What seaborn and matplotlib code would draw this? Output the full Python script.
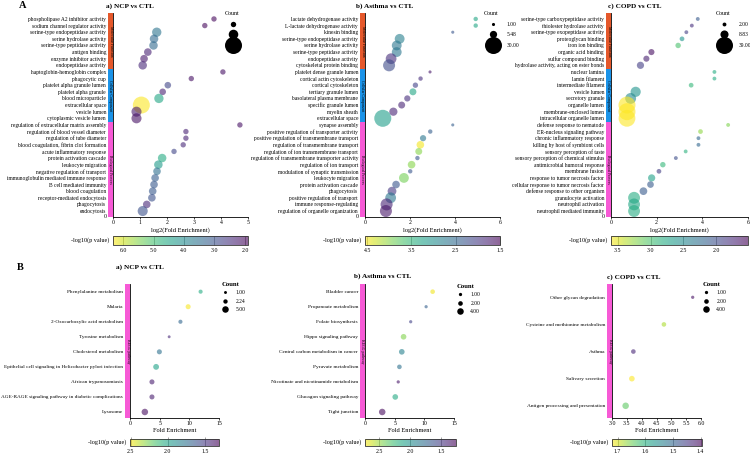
import numpy as np
import pandas as pd
import matplotlib.pyplot as plt
import matplotlib.transforms as mtransforms
from matplotlib.patches import Rectangle
from matplotlib.colors import Normalize
from matplotlib.cm import ScalarMappable
import seaborn as sns

# ---------------- data ----------------
go_groups = ["Molecular Function", "Cellular Component", "Biological Process"]
go_sizes = [8, 8, 14]

ncp_go_terms = [
    "phospholipase A2 inhibitor activity", "sodium channel regulator activity",
    "serine-type endopeptidase activity", "serine hydrolase activity",
    "serine-type peptidase activity", "antigen binding", "enzyme inhibitor activity",
    "endopeptidase activity",
    "haptoglobin-hemoglobin complex", "phagocytic cup", "platelet alpha granule lumen",
    "platelet alpha granule", "blood microparticle", "extracellular space",
    "vesicle lumen", "cytoplasmic vesicle lumen",
    "regulation of extracellular matrix assembly", "regulation of blood vessel diameter",
    "regulation of tube diameter", "blood coagulation, fibrin clot formation",
    "acute inflammatory response", "protein activation cascade", "leukocyte migration",
    "negative regulation of transport", "immunoglobulin mediated immune response",
    "B cell mediated immunity", "blood coagulation", "receptor-mediated endocytosis",
    "phagocytosis", "endocytosis",
]
ncp_go_fe = [3.74, 3.40, 1.62, 1.52, 1.50, 1.29, 1.15, 1.10,
             4.07, 2.90, 2.03, 1.84, 1.70, 1.05, 0.87, 0.87,
             4.70, 2.70, 2.70, 2.60, 2.26, 1.82, 1.68, 1.63, 1.56, 1.52, 1.47, 1.44, 1.25, 1.10]
ncp_go_count = [2, 2, 6, 5, 5, 4, 4, 5,
                2, 2, 3, 3, 6, 20, 7, 7,
                2, 2, 2, 2, 2, 5, 5, 4, 4, 4, 4, 4, 4, 7]
ncp_go_logp = [2.0, 2.0, 3.6, 3.4, 3.4, 2.3, 2.2, 2.4,
               2.1, 2.1, 2.8, 2.3, 4.5, 6.3, 2.2, 2.1,
               2.1, 2.3, 2.3, 2.4, 2.8, 4.6, 4.3, 3.5, 3.2, 3.1, 3.1, 3.0, 2.4, 3.0]

asthma_go_terms = [
    "lactate dehydrogenase activity", "L-lactate dehydrogenase activity", "kinesin binding",
    "serine-type endopeptidase activity", "serine hydrolase activity",
    "serine-type peptidase activity", "endopeptidase activity", "cytoskeletal protein binding",
    "platelet dense granule lumen", "cortical actin cytoskeleton", "cortical cytoskeleton",
    "tertiary granule lumen", "basolateral plasma membrane", "specific granule lumen",
    "myelin sheath", "extracellular space",
    "synapse assembly", "positive regulation of transporter activity",
    "positive regulation of transmembrane transport", "regulation of transmembrane transport",
    "regulation of ion transmembrane transport",
    "regulation of transmembrane transporter activity", "regulation of ion transport",
    "modulation of synaptic transmission", "leukocyte migration", "protein activation cascade",
    "phagocytosis", "positive regulation of transport", "immune response-regulating",
    "regulation of organelle organization",
]
asthma_go_fe = [4.92, 4.92, 3.90, 1.54, 1.41, 1.41, 1.16, 1.07,
                2.89, 2.47, 2.24, 2.13, 1.88, 1.63, 1.26, 0.79,
                3.90, 2.90, 2.58, 2.46, 2.39, 2.33, 2.07, 2.01, 1.73, 1.38, 1.20, 1.14, 0.96, 0.93]
asthma_go_count = [2, 2, 1, 10, 10, 10, 12, 15,
                   1, 2, 3, 5, 4, 5, 7, 30,
                   1, 2, 4, 6, 5, 2, 6, 2, 10, 6, 8, 12, 15, 15]
asthma_go_logp = [3.3, 3.3, 2.3, 2.8, 2.7, 2.7, 1.9, 2.2,
                  1.7, 1.9, 2.1, 3.3, 1.9, 1.8, 1.8, 3.2,
                  2.4, 2.4, 2.7, 4.5, 4.0, 2.3, 4.0, 2.3, 3.9, 2.3, 2.0, 2.7, 1.8, 1.7]

copd_go_terms = [
    "serine-type carboxypeptidase activity", "thiolester hydrolase activity",
    "serine-type exopeptidase activity", "proteoglycan binding", "iron ion binding",
    "organic acid binding", "sulfur compound binding",
    "hydrolase activity, acting on ester bonds",
    "nuclear lamina", "lamin filament", "intermediate filament", "vesicle lumen",
    "secretory granule", "organelle lumen", "membrane-enclosed lumen",
    "intracellular organelle lumen",
    "defense response to nematode", "ER-nucleus signaling pathway",
    "chronic inflammatory response", "killing by host of symbiont cells",
    "sensory perception of taste", "sensory perception of chemical stimulus",
    "antimicrobial humoral response", "membrane fusion",
    "response to tumor necrosis factor", "cellular response to tumor necrosis factor",
    "defense response to other organism", "granulocyte activation",
    "neutrophil activation", "neutrophil mediated immunity",
]
copd_go_fe = [3.80, 3.54, 3.30, 3.11, 2.94, 1.77, 1.55, 1.29,
              4.53, 4.53, 3.51, 1.08, 0.86, 0.70, 0.70, 0.70,
              5.13, 3.92, 3.83, 3.83, 3.27, 2.84, 2.27, 2.10, 1.78, 1.73, 1.42, 1.01, 1.01, 1.01]
copd_go_count = [2, 2, 2, 3, 4, 5, 5, 7,
                 2, 2, 3, 14, 16, 39, 39, 38,
                 2, 3, 2, 2, 2, 2, 4, 3, 7, 6, 8, 19, 19, 19]
copd_go_logp = [2.1, 1.8, 1.9, 2.6, 3.0, 1.6, 1.7, 1.9,
                2.8, 2.8, 2.9, 2.6, 2.5, 3.6, 3.6, 3.6,
                3.2, 3.25, 2.2, 2.2, 2.85, 2.0, 2.9, 1.9, 2.7, 2.1, 2.1, 2.8, 2.75, 2.8]

ncp_kegg_terms = [
    "Phenylalanine metabolism", "Malaria", "2-Oxocarboxylic acid metabolism",
    "Tyrosine metabolism", "Cholesterol metabolism",
    "Epithelial cell signaling in Helicobacter pylori infection",
    "African trypanosomiasis", "AGE-RAGE signaling pathway in diabetic complications",
    "Lysosome",
]
ncp_kegg_fe = [11.9, 9.8, 8.5, 6.6, 4.95, 4.4, 3.7, 3.7, 2.5]
ncp_kegg_count = [2, 3, 2, 1, 3, 4, 3, 3, 5]
ncp_kegg_logp = [2.05, 2.5, 1.7, 1.45, 1.75, 2.0, 1.4, 1.4, 1.35]

asthma_kegg_terms = [
    "Bladder cancer", "Propanoate metabolism", "Folate biosynthesis",
    "Hippo signaling pathway", "Central carbon metabolism in cancer",
    "Pyruvate metabolism", "Nicotinate and nicotinamide metabolism",
    "Glucagon signaling pathway", "Tight junction",
]
asthma_kegg_fe = [11.4, 10.3, 7.7, 6.5, 6.2, 5.8, 5.6, 5.1, 2.9]
asthma_kegg_count = [2, 1, 1, 3, 3, 2, 1, 3, 4]
asthma_kegg_logp = [2.7, 1.7, 1.55, 2.45, 1.9, 1.8, 1.35, 2.15, 1.3]

copd_kegg_terms = [
    "Other glycan degradation", "Cysteine and methionine metabolism", "Asthma",
    "Salivary secretion", "Antigen processing and presentation",
]
copd_kegg_fe = [5.72, 4.75, 3.72, 3.67, 3.46]
copd_kegg_count = [1, 2, 2, 3, 4]
copd_kegg_logp = [1.41, 1.68, 1.43, 1.72, 1.64]

# ---------------- style ----------------
sns.set_theme(style="white")
plt.rcParams['font.family'] = ['Liberation Serif', 'DejaVu Serif']
plt.rcParams['text.color'] = 'black'
plt.rcParams['axes.labelcolor'] = 'black'
plt.rcParams['xtick.color'] = 'black'
plt.rcParams['ytick.color'] = 'black'

GROUP_COLORS = ['#E5582B', '#1B93E8', '#F75AD6']
W, H = 750, 457
fig = plt.figure(figsize=(W / 100, H / 100), dpi=100)


def px_axes(l, t, r, b):
    return fig.add_axes([l / W, 1 - b / H, (r - l) / W, (b - t) / H])


def dot_panel(rect, terms, fe, counts, logp, groups, sizes, colors, xlim, xticks,
              prange, smax, pads, xlabel, tick_fs=4.0, zero=False):
    ax = px_axes(*rect)
    df = pd.DataFrame({'term': terms, 'fe': fe, 'count': counts, 'logp': logp})
    sns.scatterplot(data=df, x='fe', y='term', hue='logp', size='count',
                    palette='viridis', hue_norm=prange,
                    sizes=(0, smax), size_norm=(0, max(counts)),
                    alpha=0.6, linewidth=0, legend=False, ax=ax, clip_on=False)
    n = len(terms)
    ax.set_ylim(n - 1 + pads[1], -pads[0])
    ax.set_xlim(*xlim)
    ax.set_xticks(xticks)
    ax.set_ylabel('')
    ax.set_xlabel(xlabel, fontsize=4.6, labelpad=1)
    ax.tick_params(axis='y', length=0, pad=5.0, labelsize=tick_fs)
    ax.tick_params(axis='x', length=1.5, width=0.5, pad=1, labelsize=4.2, bottom=True)
    for side in ['top', 'right']:
        ax.spines[side].set_visible(False)
    for side in ['left', 'bottom']:
        ax.spines[side].set_color('black')
        ax.spines[side].set_linewidth(0.6)
    # coloured category strip left of the axis
    bw = 5 / (rect[2] - rect[0])
    tr = mtransforms.blended_transform_factory(ax.transAxes, ax.transData)
    edges = [-pads[0]] + list(np.cumsum(sizes)[:-1] - 0.5) + [n - 1 + pads[1]]
    for i, (g, c) in enumerate(zip(groups, colors)):
        ax.add_patch(Rectangle((-bw, edges[i]), bw, edges[i + 1] - edges[i],
                               transform=tr, color=c, clip_on=False, lw=0))
        ax.text(-bw / 2, (edges[i] + edges[i + 1]) / 2, g, transform=tr,
                rotation=-90, ha='center', va='center', fontsize=2.8)
    if zero:
        ax.text(-8 / (rect[2] - rect[0]), 0, '0', transform=ax.transAxes,
                ha='center', va='center', fontsize=4.2)
    return ax


def colorbar(rect, prange, ticks):
    cax = px_axes(*rect)
    sm = ScalarMappable(norm=Normalize(*prange), cmap='viridis')
    cb = fig.colorbar(sm, cax=cax, orientation='horizontal', alpha=0.6)
    cax.invert_xaxis()
    cb.set_ticks(ticks)
    cb.set_ticklabels([f'{t:.1f}' for t in ticks])
    cax.tick_params(labelsize=4.2, direction='in', length=6.5, width=0.4,
                    color='0.35', pad=2.5)
    cb.outline.set_linewidth(0.6)
    cb.outline.set_edgecolor('0.2')
    cax.text(-4 / (rect[2] - rect[0]), 0.5, '-log10(p value)', transform=cax.transAxes,
             ha='right', va='center', fontsize=4.4)


def count_legend(anchor, counts, smax, handlelen, textpad, spacing, show_labels=True,
                 bold=False):
    cmin, cmax = min(counts), max(counts)
    vals = [cmin, np.sqrt(cmin * cmax), cmax]
    handles = [plt.Line2D([], [], ls='', marker='o', color='black', mec='none',
                          markersize=np.sqrt(smax * v / cmax)) for v in vals]
    labels = [f'{v:.2f}' if show_labels else '' for v in vals]
    leg = fig.legend(handles, labels, title='Count', loc='upper left',
                     bbox_to_anchor=(anchor[0] / W, 1 - anchor[1] / H),
                     frameon=False, fontsize=4.0, borderpad=0, borderaxespad=0,
                     handlelength=handlelen, handletextpad=textpad,
                     labelspacing=spacing, alignment='left')
    leg.get_title().set_fontsize(4.8 if bold else 4.3)
    if bold:
        leg.get_title().set_fontweight('bold')


# ---------------- top row: GO ----------------
TOP_PADS = (0.9, 0.9)
dot_panel((113, 13, 248, 217), ncp_go_terms, ncp_go_fe, ncp_go_count, ncp_go_logp,
          go_groups, go_sizes, GROUP_COLORS, (0, 5), [0, 1, 2, 3, 4, 5],
          (1.9, 6.33), 150, TOP_PADS, 'log2(Fold Enrichment)', zero=True)
colorbar((113, 236, 248, 245), (1.9, 6.33), [6.0, 5.0, 4.0, 3.0, 2.0])
count_legend((224.5, 11), ncp_go_count, 150, 3.1, 1.0, 1.0, show_labels=False)

dot_panel((365, 13, 500, 217), asthma_go_terms, asthma_go_fe, asthma_go_count,
          asthma_go_logp, go_groups, go_sizes, GROUP_COLORS, (0, 6), [0, 2, 4, 6],
          (1.5, 4.55), 150, TOP_PADS, 'log2(Fold Enrichment)', zero=True)
colorbar((365, 236, 500, 245), (1.5, 4.55), [4.5, 3.5, 2.5, 1.5])
count_legend((484, 11), asthma_go_count, 150, 3.1, 1.0, 1.0)

dot_panel((611, 13, 748, 217), copd_go_terms, copd_go_fe, copd_go_count, copd_go_logp,
          go_groups, go_sizes, GROUP_COLORS, (0, 6), [0, 2, 4, 6],
          (1.52, 3.6), 150, TOP_PADS, 'log2(Fold Enrichment)', zero=True)
colorbar((611, 236, 748, 245), (1.52, 3.6), [3.5, 3.0, 2.5, 2.0])
count_legend((715.5, 11), copd_go_count, 150, 3.1, 1.0, 1.0)

# ---------------- bottom row: KEGG ----------------
PINK = [GROUP_COLORS[2]]
dot_panel((130, 284, 219, 418), ncp_kegg_terms, ncp_kegg_fe, ncp_kegg_count,
          ncp_kegg_logp, ["KEGG pathway"], [9], PINK, (0, 15), [0, 5, 10, 15],
          (1.31, 2.51), 22, (0.51, 0.4), 'Fold Enrichment', tick_fs=3.75)
colorbar((130, 439, 219, 446), (1.31, 2.51), [2.5, 2.0, 1.5])
count_legend((222, 282), ncp_kegg_count, 22, 1.2, 1.2, 0.6, bold=True)

dot_panel((365, 284, 454, 418), asthma_kegg_terms, asthma_kegg_fe, asthma_kegg_count,
          asthma_kegg_logp, ["KEGG pathway"], [9], PINK, (0, 15), [0, 5, 10, 15],
          (1.26, 2.73), 22, (0.51, 0.4), 'Fold Enrichment', tick_fs=3.9)
colorbar((365, 439, 456, 446), (1.26, 2.73), [2.5, 2.0, 1.5])
count_legend((457, 284), asthma_kegg_count, 22, 1.2, 1.2, 0.6, bold=True)

dot_panel((612, 284, 701, 418), copd_kegg_terms, copd_kegg_fe, copd_kegg_count,
          copd_kegg_logp, ["KEGG pathway"], [5], PINK, (3.0, 6.0),
          [3.0, 3.5, 4.0, 4.5, 5.0, 5.5, 6.0],
          (1.395, 1.72), 22, (0.49, 0.45), 'Fold Enrichment', tick_fs=3.9)
colorbar((612, 439, 702, 446), (1.395, 1.72), [1.7, 1.6, 1.5, 1.4])
count_legend((703, 282), copd_kegg_count, 22, 1.2, 1.2, 0.6, bold=True)

# ---------------- titles ----------------
for x, y, s in [(130, 6, 'a) NCP vs CTL'), (385, 6, 'b) Asthma vs CTL'),
                (635, 6, 'c) COPD vs CTL'), (140, 267, 'a) NCP vs CTL'),
                (383, 276, 'b) Asthma vs CTL'), (634, 277, 'c) COPD vs CTL')]:
    fig.text(x / W, 1 - y / H, s, ha='center', va='center', fontsize=5.2,
             fontweight='bold')
fig.text(23 / W, 1 - 6 / H, 'A', ha='center', va='center', fontsize=7.5, fontweight='bold')
fig.text(20 / W, 1 - 267 / H, 'B', ha='center', va='center', fontsize=7.5,
         fontweight='bold')

fig.savefig('out.png', dpi=100, facecolor='white')
